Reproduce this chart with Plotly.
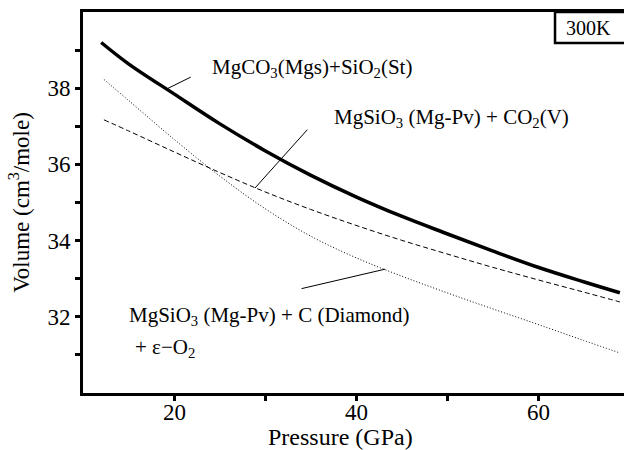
import plotly.graph_objects as go

# Data
pressure_carb = [12, 15, 20, 25, 30, 35, 40, 45, 50, 55, 60, 65, 69]
vol_carb = [39.20, 38.64, 37.85, 37.07, 36.36, 35.72, 35.15, 34.64, 34.18, 33.73, 33.30, 32.92, 32.63]

pressure_co2 = [12.3, 15, 20, 25, 30, 35, 40, 45, 50, 55, 60, 65, 69]
vol_co2 = [37.17, 36.88, 36.33, 35.79, 35.28, 34.82, 34.40, 34.01, 33.65, 33.30, 32.97, 32.65, 32.39]

pressure_dia = [12.3, 15, 20, 25, 30, 35, 40, 45, 50, 55, 60, 65, 69]
vol_dia = [38.23, 37.68, 36.66, 35.70, 34.84, 34.12, 33.55, 33.07, 32.63, 32.21, 31.80, 31.38, 31.05]

x_tickvals = [20, 30, 40, 50, 60]
x_ticktext = ["20", "", "40", "", "60"]
y_tickvals = [31, 32, 33, 34, 35, 36, 37, 38, 39]
y_ticktext = ["", "32", "", "34", "", "36", "", "38", ""]

FONT = "Liberation Serif"

fig = go.Figure()
fig.add_trace(go.Scatter(x=pressure_carb, y=vol_carb, mode="lines", line=dict(color="black", width=3.5, shape="spline"), showlegend=False))
fig.add_trace(go.Scatter(x=pressure_co2, y=vol_co2, mode="lines", line=dict(color="black", width=1, dash="5px,3px", shape="spline"), showlegend=False))
fig.add_trace(go.Scatter(x=pressure_dia, y=vol_dia, mode="lines", line=dict(color="black", width=1, dash="1px,2px", shape="spline"), showlegend=False))

annots = []
# leader lines
leaders = [
    (19.2, 37.98, 22.0, 38.31),
    (28.9, 35.38, 34.8, 36.95),
    (43.2, 33.25, 33.85, 32.73),
]
for (x0, y0, x1, y1) in leaders:
    annots.append(dict(x=x0, y=y0, ax=x1, ay=y1, xref="x", yref="y", axref="x", ayref="y",
                       text="", showarrow=True, arrowhead=0, arrowwidth=1, arrowcolor="black"))

labels = [
    (23.96, 38.52, "MgCO<sub>3</sub>(Mgs)+SiO<sub>2</sub>(St)"),
    (37.36, 37.21, "MgSiO<sub>3</sub> (Mg-Pv) + CO<sub>2</sub>(V)"),
    (14.84, 32.03, "MgSiO<sub>3</sub> (Mg-Pv) + C (Diamond)"),
    (15.5, 31.17, "+ ε−O<sub>2</sub>"),
]
for (x, y, t) in labels:
    annots.append(dict(x=x, y=y, xref="x", yref="y", text=t, showarrow=False, xanchor="left", yanchor="middle",
                       font=dict(family=FONT, size=21, color="black")))

# x tick labels, placed on the x scale just below the axis
for v, t in zip(x_tickvals, x_ticktext):
    if t:
        annots.append(dict(x=v, xref="x", y=0, yref="paper", yanchor="top", yshift=-5, text=t,
                           showarrow=False, font=dict(family=FONT, size=23, color="black")))

# x axis title
annots.append(dict(x=0.5, xref="paper", y=0, yref="paper", yanchor="middle", yshift=-44, xshift=-13,
                   text="Pressure (GPa)", showarrow=False, font=dict(family=FONT, size=24, color="black")))

annots.append(dict(x=0.935, y=0.958, xref="paper", yref="paper", text="300K", showarrow=False,
                   xanchor="center", yanchor="middle", font=dict(family=FONT, size=20, color="black")))

fig.update_layout(
    width=624, height=450,
    margin=dict(l=83, r=0, t=12, b=57),
    plot_bgcolor="white", paper_bgcolor="white",
    font=dict(family=FONT, color="black"),
    annotations=annots,
    shapes=[dict(type="rect", xref="paper", yref="paper", x0=0.8725, x1=1.05, y0=0.9186, y1=1.0,
                 line=dict(color="black", width=2.5))],
    xaxis=dict(range=[10, 69.45], tickvals=x_tickvals, ticks="outside", ticklen=5, showticklabels=False,
               tickwidth=2.5, tickcolor="black", showline=True, linewidth=3, linecolor="black", mirror=True,
               showgrid=False, zeroline=False, automargin=False),
    yaxis=dict(range=[30, 40], tickvals=y_tickvals, ticktext=y_ticktext, ticks="outside", ticklen=5,
               tickwidth=2.5, tickcolor="black", showline=True, linewidth=3, linecolor="black", mirror=False,
               showgrid=False, zeroline=False, tickfont=dict(family=FONT, size=23), automargin=False,
               title=dict(text="Volume (cm<sup>3</sup>/mole)", font=dict(family=FONT, size=23), standoff=12)),
)

fig.write_html("out.html", config={"displayModeBar": False},
               post_script="document.body.style.margin='0';document.body.style.padding='0';")
